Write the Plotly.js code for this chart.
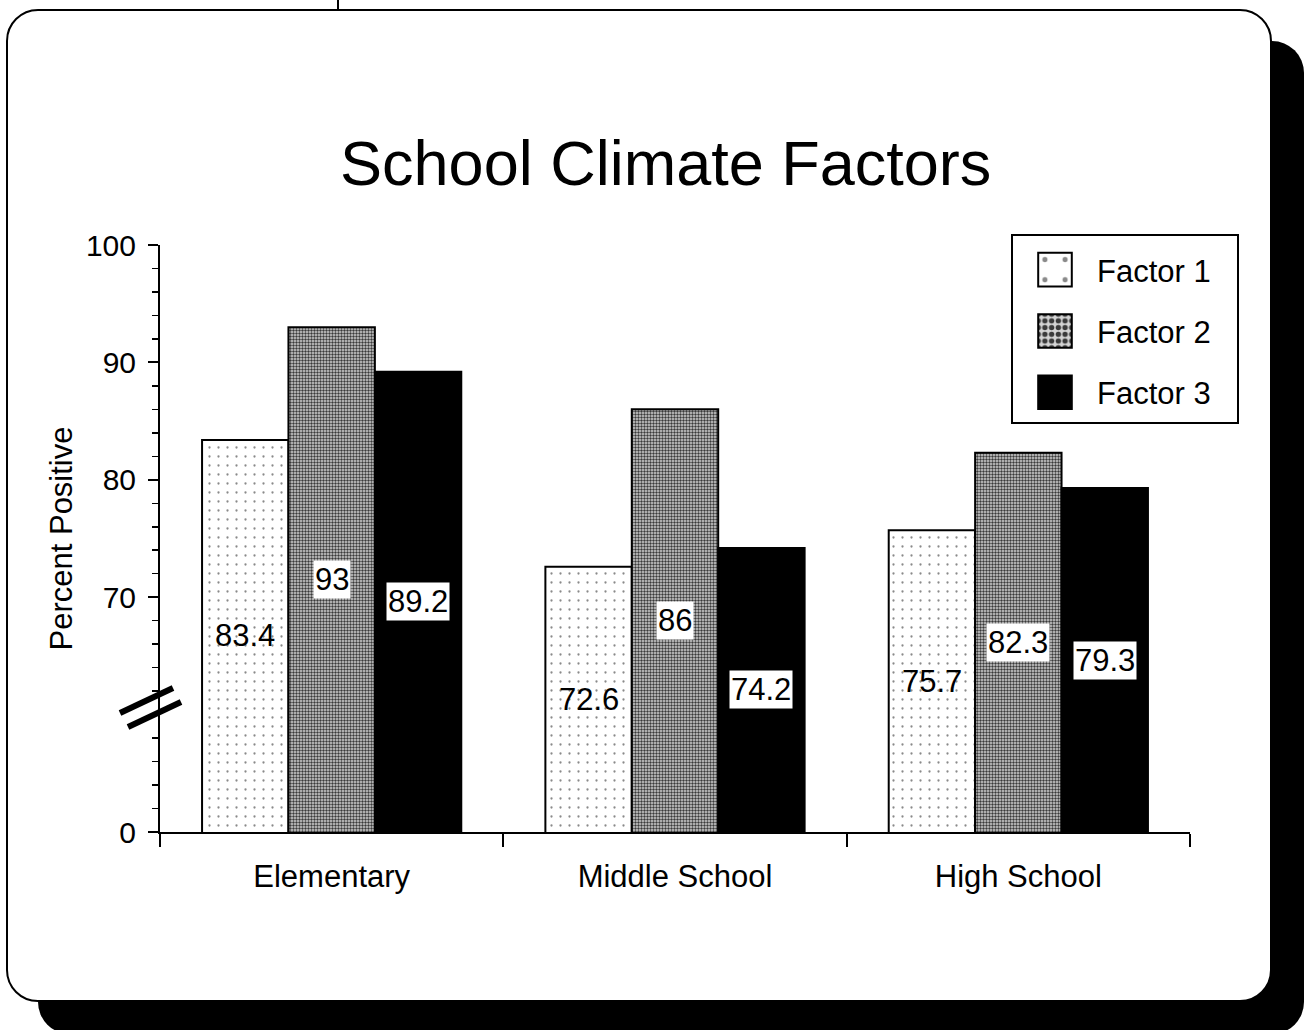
<!DOCTYPE html>
<html>
<head>
<meta charset="utf-8">
<script src="https://cdn.plot.ly/plotly-3.0.1.min.js"></script>
<style>
  html, body { margin: 0; padding: 0; background: #ffffff; }
  #wrap { position: relative; width: 1313px; height: 1030px; overflow: hidden; background: #fff; }
  #frame {
    position: absolute; left: 6px; top: 9px; width: 1262px; height: 989px;
    border: 2px solid #000; border-radius: 32px; background: #fff;
    box-shadow: 32px 32px 0 0 #000;
  }
  .scanline { position: absolute; width: 2px; background: #000; }
  #chart { position: absolute; left: 0; top: 0; width: 1313px; height: 1030px; }
</style>
</head>
<body>
<div id="wrap">
  <div class="scanline" style="left:337px; top:0; height:9px;"></div>
  <div class="scanline" style="left:337px; top:1000px; height:30px;"></div>
  <div id="frame"></div>
  <div id="chart"></div>
</div>
<script>
// ---- data ----
const categories = ['Elementary', 'Middle School', 'High School'];
const seriesNames = ['Factor 1', 'Factor 2', 'Factor 3'];
const factor1 = [83.4, 72.6, 75.7];
const factor2 = [93, 86, 82.3];
const factor3 = [89.2, 74.2, 79.3];
const yTickVals = [50, 70, 80, 90, 100];
const yTickText = ['0', '70', '80', '90', '100'];

// ---- styling ----
const FONT = 'Liberation Sans, Arial, Helvetica, sans-serif';
const yFloor = yTickVals[0];
const bargap = 0.245;
const plotW = 1313 - 160 - 123;
const plotH = 1030 - 245 - 198;
const barPx = plotW / categories.length * (1 - bargap) / seriesNames.length;

const seriesValues = [factor1, factor2, factor3];
const markers = [
  { color: '#ffffff', line: { color: '#000', width: 2 },
    pattern: { shape: '.', fgcolor: '#8a8a8a', bgcolor: '#ffffff', size: 9, solidity: 0.05 } },
  { color: '#ffffff', line: { color: '#000', width: 2 },
    pattern: { shape: '.', fgcolor: '#3a3a3a', bgcolor: '#d4d4d4', size: 3, solidity: 0.5 } },
  { color: '#000000', line: { color: '#000', width: 2 } }
];

const traces = seriesValues.map((vals, i) => ({
  type: 'bar',
  name: seriesNames[i],
  x: categories,
  y: vals,
  marker: markers[i],
  legendgroup: 'g' + i,
  hoverinfo: 'x+y+name'
}));

const annotations = [];
seriesValues.forEach((vals, i) => {
  vals.forEach((v, j) => {
    annotations.push({
      x: categories[j], xref: 'x',
      y: (yFloor + v) / 2, yref: 'y',
      xshift: (i - 1) * barPx,
      text: String(v),
      showarrow: false,
      font: { family: FONT, size: 31, color: '#000' },
      bgcolor: i === 0 ? 'rgba(255,255,255,0)' : '#ffffff',
      borderpad: 1
    });
  });
});

const px2paperX = px => (px - 160) / plotW;
const px2paperY = py => (832 - py) / plotH;
const breakLine = (x0, y0, x1, y1) => ({
  type: 'line', xref: 'paper', yref: 'paper',
  x0: px2paperX(x0), x1: px2paperX(x1),
  y0: px2paperY(y0), y1: px2paperY(y1),
  line: { color: '#000', width: 6 }, layer: 'above'
});

const layout = {
  width: 1313, height: 1030,
  paper_bgcolor: 'rgba(0,0,0,0)',
  plot_bgcolor: 'rgba(0,0,0,0)',
  margin: { l: 160, r: 123, t: 245, b: 198 },
  font: { family: FONT, color: '#000', size: 31 },
  title: {
    text: 'School Climate Factors',
    font: { family: FONT, size: 63, color: '#000' },
    xref: 'container', x: 0.507, xanchor: 'center',
    yref: 'container', y: 1 - 163 / 1030, yanchor: 'middle'
  },
  barmode: 'group',
  bargap: bargap,
  bargroupgap: 0,
  showlegend: true,
  legend: {
    x: px2paperX(1012), xanchor: 'left',
    y: px2paperY(241), yanchor: 'top',
    bordercolor: '#000', borderwidth: 2, bgcolor: '#ffffff',
    font: { family: FONT, size: 31, color: '#000' },
    tracegroupgap: 18,
    itemwidth: 73,
    itemclick: false, itemdoubleclick: false
  },
  xaxis: {
    type: 'category',
    showline: true, linecolor: '#000', linewidth: 2,
    ticks: 'outside', tickson: 'boundaries', ticklen: 13, tickwidth: 2, tickcolor: '#000',
    showgrid: false, zeroline: false,
    tickfont: { family: FONT, size: 31, color: '#000' },
    ticklabelstandoff: 16,
    fixedrange: true
  },
  yaxis: {
    range: [yFloor, 100],
    tickmode: 'array', tickvals: yTickVals, ticktext: yTickText,
    showline: true, linecolor: '#000', linewidth: 2,
    ticks: 'outside', ticklen: 10, tickwidth: 2, tickcolor: '#000',
    minor: { tickmode: 'linear', tick0: 50, dtick: 2, ticks: 'outside', ticklen: 6, tickwidth: 1.5, tickcolor: '#000', showgrid: false },
    showgrid: false, zeroline: false,
    tickfont: { family: FONT, size: 30, color: '#000' },
    ticklabelstandoff: 6,
    title: { text: 'Percent Positive', font: { family: FONT, size: 31, color: '#000' }, standoff: 4 },
    automargin: false,
    fixedrange: true
  },
  annotations: annotations,
  shapes: [
    breakLine(120, 713, 173, 688),
    breakLine(128, 727, 181, 702),
    { type: 'line', xref: 'paper', yref: 'paper', x0: px2paperX(148), x1: 0, y0: 0, y1: 0,
      line: { color: '#000', width: 2 } }
  ]
};

// enlarge legend swatches and box to match the slide legend
function styleLegend() {
  const root = document.getElementById('chart');
  const symbolCenterX = 1055;
  root.querySelectorAll('.legend .legendpoints path').forEach(p => {
    const base = p.getAttribute('transform') || '';
    p.setAttribute('transform', base + ' scale(2.8)');
    p.style.vectorEffect = 'non-scaling-stroke';
    const r = p.getBoundingClientRect();
    const cx = r.left + r.width / 2;
    p.setAttribute('transform', 'translate(' + (symbolCenterX - cx) + ',0) ' + base + ' scale(2.8)');
  });
  const bg = root.querySelector('.legend rect.bg');
  if (bg) {
    const legendLeft = 1012, legendRight = 1240, legendTop = 235, legendBottom = 425;
    const br = bg.getBoundingClientRect();
    const x0 = parseFloat(bg.getAttribute('x') || 0);
    const y0 = parseFloat(bg.getAttribute('y') || 0);
    bg.setAttribute('x', x0 + (legendLeft - br.left));
    bg.setAttribute('y', y0 + (legendTop - br.top));
    bg.setAttribute('width', legendRight - legendLeft - 2);
    bg.setAttribute('height', legendBottom - legendTop - 2);
  }
}

Plotly.newPlot('chart', traces, layout, { displayModeBar: false, staticPlot: true }).then(styleLegend);
</script>
</body>
</html>
